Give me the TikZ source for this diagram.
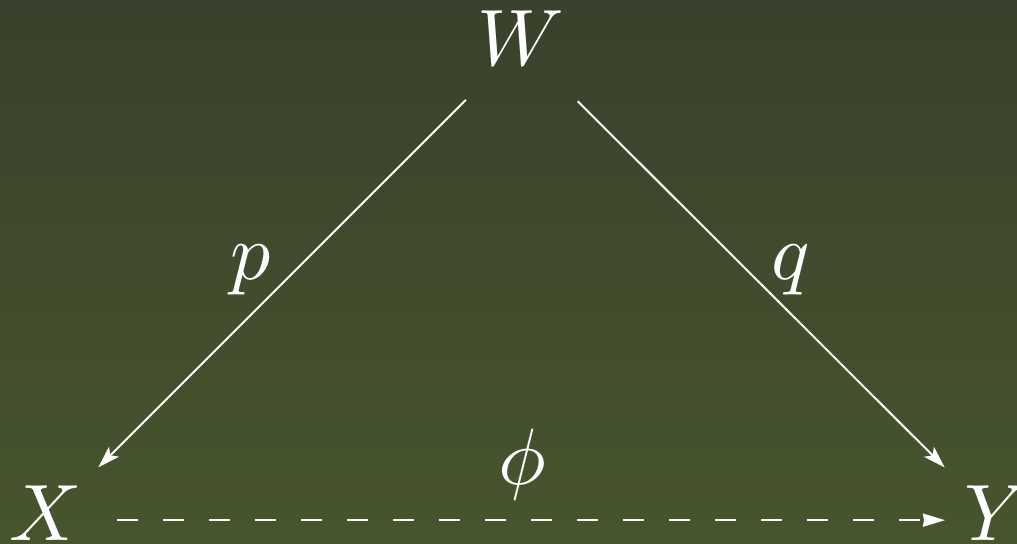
\documentclass[tikz,border=0pt]{standalone}
\usetikzlibrary{arrows.meta}
\definecolor{bgtop}{RGB}{58,65,44}
\definecolor{bgbot}{RGB}{71,85,46}
\begin{document}
\begin{tikzpicture}[x=0.5pt,y=0.5pt,
  lab/.style={text=white,inner sep=0pt,scale=4,font=\fontsize{10}{12}\selectfont},
  arr/.style={draw=white,line width=1pt,-{Stealth[length=11pt,width=7pt,inset=2.5pt]}},
  darr/.style={draw=white,line width=1pt,dash pattern=on 10.5pt off 12.5pt,-{Stealth[length=11pt,width=6.5pt,inset=0.5pt]}}]
\shade[top color=bgtop,bottom color=bgbot] (0,0) rectangle (1017,543);
\useasboundingbox (0,0) rectangle (1017,543);
\node[lab,anchor=base] (W) at (521,478) {$W$};
\node[lab,anchor=base] (X) at (46,3) {$X$};
\node[lab,anchor=base] (Y) at (997,3) {$Y$};
\node[lab,anchor=base] (p) at (251,263.5) {$p$};
\node[lab,anchor=base] (q) at (791,263.5) {$q$};
\node[lab,anchor=base] (phi) at (522,58.5) {$\phi$};
\draw[arr,shorten <=39pt,shorten >=37pt] ([yshift=-3.5pt]W.center) -- ([yshift=-3.5pt]X.center);
\draw[arr,shorten <=40pt,shorten >=37pt] ([yshift=-3.5pt]W.center) -- ([yshift=-3.5pt]Y.center);
\draw[darr,shorten <=35.5pt,shorten >=26pt] ([yshift=-3.75pt]X.center) -- ([yshift=-3.75pt]Y.center);
\end{tikzpicture}
\end{document}
